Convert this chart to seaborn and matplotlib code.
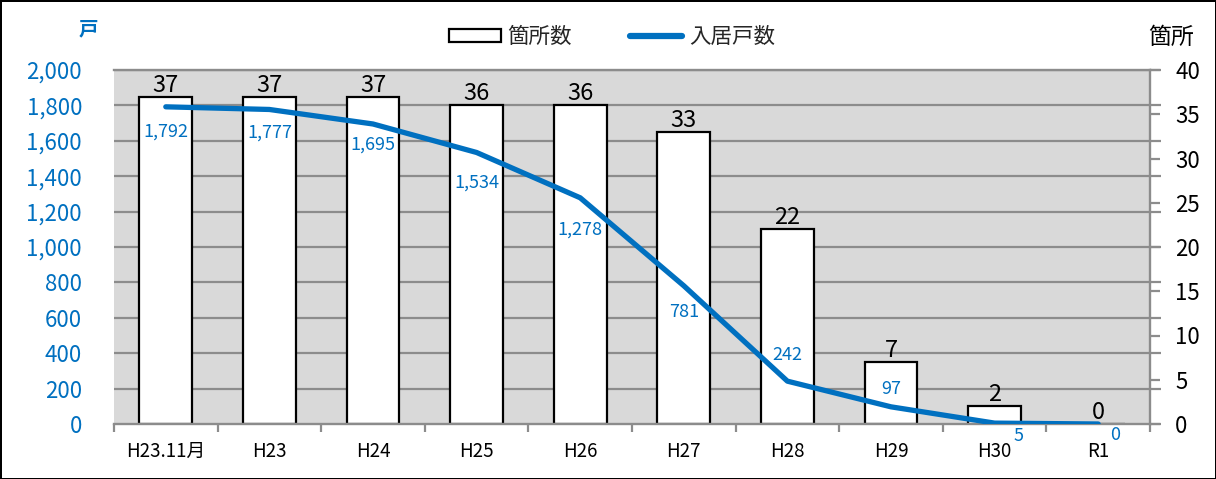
import numpy as np
import pandas as pd
import matplotlib
matplotlib.use("Agg")
import matplotlib.pyplot as plt
from matplotlib.patches import Patch
from matplotlib.lines import Line2D
from matplotlib.ticker import FixedLocator, FuncFormatter
import seaborn as sns

categories = ["H23.11月", "H23", "H24", "H25", "H26", "H27", "H28", "H29", "H30", "R1"]
sites = [37, 37, 37, 36, 36, 33, 22, 7, 2, 0]            # 箇所数 (right axis)
households = [1792, 1777, 1695, 1534, 1278, 781, 242, 97, 5, 0]  # 入居戸数 (left axis)
# label offsets (points) for the household labels
hh_offsets = [(0, -18), (0, -17), (0, -15), (0, -22), (0, -23), (0, -19),
              (0, 19), (0, 13), (17, -9), (12, -8)]

sns.set_theme(style="white")
plt.rcParams['font.family'] = ['Noto Sans CJK JP', 'DejaVu Sans']

BLUE = "#0070C0"
GRID = "#8C8C8C"
BG = "#D9D9D9"

fig = plt.figure(figsize=(12.16, 4.79), dpi=100)
fig.patch.set_facecolor("white")
fig.patch.set_edgecolor("black")
fig.patch.set_linewidth(2)

ax_bar = fig.add_axes([114/1216, 1 - 424/479, (1150 - 114)/1216, (424 - 70)/479])
ax_bar.set_facecolor(BG)
ax_line = ax_bar.twinx()
ax_line.patch.set_visible(False)

df = pd.DataFrame({"cat": categories, "sites": sites, "hh": households})
df["pos"] = np.arange(len(df))

sns.barplot(data=df, x="cat", y="sites", ax=ax_bar, color="white",
            edgecolor="black", linewidth=1.6, width=0.51, saturation=1, zorder=3)
sns.lineplot(data=df, x="pos", y="hh", ax=ax_line, color=BLUE, linewidth=3.8,
             solid_capstyle="round", solid_joinstyle="round", zorder=4)

# axis limits
ax_bar.set_ylim(0, 40)
ax_line.set_ylim(0, 2000)
ax_bar.set_xlim(-0.5, len(categories) - 0.5)

# grid (left-axis steps of 200), drawn behind the bars
ax_line.set_yticks(np.arange(0, 2001, 200))
for v in np.arange(200, 2001, 200):
    ax_bar.axhline(v / 50.0, color=GRID, linewidth=1.6, zorder=1)

# bars axis -> ticks on right
ax_bar.yaxis.tick_right()
ax_bar.yaxis.set_label_position("right")
ax_bar.set_yticks(np.arange(0, 41, 5))
ax_bar.tick_params(axis="y", which="major", right=True, left=False, length=7, width=1.6,
                   color=GRID, labelsize=16, labelcolor="black", pad=11, direction="out")
# line axis -> labels on left
ax_line.yaxis.tick_left()
ax_line.tick_params(axis="y", which="major", left=False, right=True, labelleft=True,
                    labelright=False, length=8, width=1.6, color=GRID, direction="out",
                    labelsize=16, labelcolor=BLUE, pad=15)
ax_line.yaxis.set_major_formatter(FuncFormatter(lambda v, p: f"{int(v):,}"))

# x axis
ax_bar.set_xlabel("")
ax_line.set_xlabel("")
ax_bar.set_ylabel("")
ax_line.set_ylabel("")
ax_bar.set_xticks(np.arange(len(categories)))
ax_bar.set_xticklabels(categories)
ax_bar.xaxis.set_minor_locator(FixedLocator(np.arange(-0.5, len(categories), 1.0)))
ax_bar.tick_params(axis="x", which="major", length=0, labelsize=13.5, pad=12, labelcolor="black")
ax_bar.tick_params(axis="x", which="minor", bottom=True, length=6, width=1.6, color=GRID,
                   direction="out")
ax_line.tick_params(axis="x", bottom=False, labelbottom=False)

for a in (ax_bar, ax_line):
    for s in a.spines.values():
        s.set_visible(False)
for side in ("bottom", "right", "top"):
    ax_bar.spines[side].set_visible(True)
    ax_bar.spines[side].set_color(GRID)
    ax_bar.spines[side].set_linewidth(1.7)
ax_bar.spines["bottom"].set_zorder(5)

# bar value labels
for i, v in enumerate(sites):
    ax_bar.annotate(f"{v}", (i, v), xytext=(0, 0), textcoords="offset points",
                    ha="center", va="bottom", fontsize=17, color="black", zorder=6)

# household labels
for i, v in enumerate(households):
    dx, dy = hh_offsets[i]
    ax_line.annotate(f"{v:,}", (i, v), xytext=(dx, dy), textcoords="offset points",
                     ha="center", va="center", fontsize=13, color=BLUE, zorder=6)

# axis unit labels
fig.text(88/1216, 1 - 30/479, "戸", color=BLUE, fontsize=14, fontweight="bold",
         ha="center", va="center")
fig.text(1171/1216, 1 - 37/479, "箇所", color="black", fontsize=16.5,
         ha="center", va="center")

# legend
handles = [Patch(facecolor="white", edgecolor="black", linewidth=1.6),
           Line2D([0], [0], color=BLUE, linewidth=4.5, solid_capstyle="round")]
fig.legend(handles, ["箇所数", "入居戸数"], loc="center", ncol=2,
           bbox_to_anchor=(612/1216, 1 - 37/479), frameon=False, fontsize=15.5,
           handlelength=2.4, handleheight=0.55, handletextpad=0.33, columnspacing=2.7)

fig.savefig("out.png", dpi=100)
